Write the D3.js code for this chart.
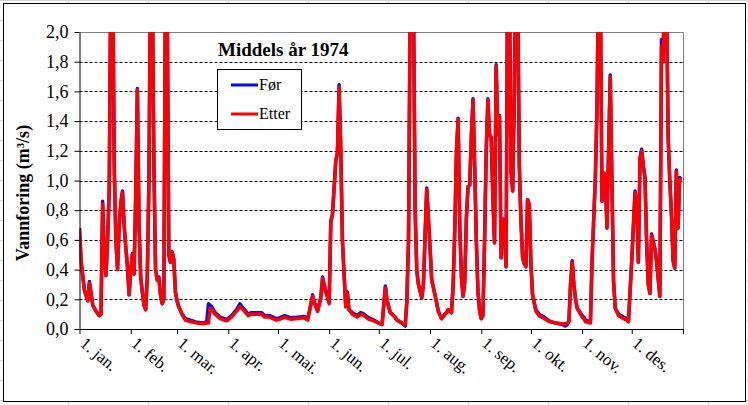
<!DOCTYPE html>
<html>
  <head>
  	<meta charset="utf-8">
  	<title>Middels år 1974</title>
  	<script src="https://d3js.org/d3.v7.min.js"></script>
  	<style>
  		body { margin: 0; background: #fff; }
  		svg text { font-family: "Liberation Serif", "Times New Roman", serif; fill: #000; }
  	</style>
  </head>
  <body>
  	<div id="chartDiv"></div>
  	<script>
  		// day of year (0 = 1. jan. 1974) for every reading
  		var dag = [0,1,3,5,6,8,10,12,13,14,15,16,17,18,19,20,21,22,23,24,25,26,27,28,29,30,
  			31,32,33,34,35,36,37,38,39,40,41,42,43,44,45,46,47,48,49,50,51,52,53,54,55,56,57,58,
  			59,60,62,64,67,71,75,77,78,79,80,82,85,89,92,95,97,99,102,104,107,110,112,115,119,
  			121,124,128,132,136,138,141,142,144,146,147,149,151,152,153,155,156,157,158,159,161,162,163,165,168,170,172,175,178,
  			181,183,185,186,188,190,192,195,197,198,199,200,201,202,203,204,205,207,208,210,
  			211,212,213,215,217,219,221,222,223,225,226,227,228,229,230,231,232,233,234,235,236,237,238,239,240,241,242,
  			243,244,245,246,247,248,249,250,251,252,253,254,255,256,257,258,259,260,261,262,263,264,265,266,267,268,269,270,271,272,
  			273,274,276,278,281,284,288,292,294,295,296,297,298,299,300,301,303,
  			304,305,306,309,310,312,313,314,315,316,317,318,319,320,321,322,323,324,326,329,331,332,
  			334,336,337,338,339,340,341,342,343,344,345,346,348,349,351,352,353,354,355,356,357,358,359,360,361,362,363,364];

  		// "Før" series (m3/s)
  		var foer = [0.68,0.45,0.26,0.19,0.32,0.16,0.12,0.09,0.10,0.86,0.50,0.36,0.60,0.95,2.50,2.60,1.10,0.60,0.40,0.70,0.85,0.93,0.70,0.55,0.42,0.23,
  			0.40,0.51,0.37,0.90,1.62,0.70,0.35,0.25,0.16,0.13,0.35,1.00,2.50,2.40,1.10,0.40,0.33,0.35,0.23,0.17,0.20,2.40,2.30,0.50,0.45,0.52,0.47,0.25,
  			0.19,0.15,0.10,0.07,0.06,0.045,0.04,0.05,0.17,0.16,0.15,0.11,0.08,0.065,0.09,0.13,0.17,0.14,0.10,0.11,0.11,0.11,0.09,0.09,0.07,
  			0.075,0.09,0.075,0.08,0.085,0.065,0.23,0.18,0.12,0.22,0.35,0.25,0.18,0.73,0.77,1.13,1.19,1.645,1.22,0.60,0.15,0.25,0.13,0.11,0.09,0.11,0.10,0.075,0.06,
  			0.04,0.03,0.29,0.19,0.11,0.09,0.06,0.04,0.02,0.19,0.60,2.20,2.80,2.20,0.80,0.39,0.30,0.21,0.30,0.95,
  			0.75,0.55,0.33,0.23,0.12,0.07,0.10,0.11,0.13,0.11,0.30,0.68,1.20,1.42,0.68,0.35,0.22,0.32,0.75,0.96,0.97,1.30,1.55,1.10,0.60,0.25,0.12,
  			0.07,0.09,0.60,1.20,1.55,1.31,1.29,0.90,0.58,1.78,1.31,1.44,0.48,0.74,0.68,0.42,2.60,2.30,1.06,0.93,1.60,2.70,2.30,1.10,0.73,0.48,0.44,0.42,0.87,0.84,
  			0.45,0.23,0.13,0.10,0.08,0.055,0.04,0.03,0.02,0.03,0.05,0.30,0.46,0.30,0.20,0.14,0.11,
  			0.09,0.08,0.06,0.045,0.46,1.02,1.50,2.50,2.30,0.86,1.05,1.04,0.68,1.20,1.71,1.00,0.32,0.14,0.10,0.08,0.07,0.05,
  			0.46,0.93,0.84,0.45,1.15,1.21,1.10,1.02,0.59,0.30,0.24,0.64,0.54,0.46,0.22,1.95,1.80,2.50,2.30,1.30,1.00,0.78,0.46,0.41,1.07,0.68,1.02,1.01];

  		// "Etter" series (m3/s)
  		var etter = [0.67,0.45,0.26,0.19,0.31,0.16,0.12,0.09,0.10,0.84,0.50,0.36,0.60,0.95,2.50,2.60,1.10,0.60,0.40,0.70,0.85,0.92,0.70,0.55,0.42,0.23,
  			0.40,0.50,0.37,0.90,1.61,0.70,0.35,0.25,0.16,0.13,0.35,1.00,2.50,2.40,1.10,0.40,0.33,0.34,0.23,0.17,0.20,2.40,2.30,0.50,0.45,0.52,0.47,0.25,
  			0.19,0.15,0.10,0.06,0.05,0.04,0.035,0.04,0.04,0.14,0.13,0.10,0.07,0.055,0.08,0.12,0.15,0.13,0.09,0.10,0.10,0.10,0.08,0.08,0.06,
  			0.065,0.08,0.065,0.07,0.075,0.06,0.22,0.18,0.12,0.21,0.34,0.25,0.17,0.72,0.77,1.13,1.19,1.63,1.22,0.60,0.15,0.24,0.13,0.10,0.08,0.10,0.09,0.065,0.055,
  			0.04,0.03,0.28,0.19,0.11,0.09,0.06,0.04,0.03,0.19,0.60,2.20,2.80,2.20,0.80,0.39,0.30,0.21,0.30,0.94,
  			0.75,0.55,0.33,0.23,0.12,0.07,0.10,0.11,0.13,0.11,0.30,0.68,1.20,1.41,0.68,0.35,0.22,0.32,0.75,0.96,0.97,1.30,1.54,1.10,0.60,0.25,0.12,
  			0.07,0.09,0.60,1.20,1.54,1.31,1.29,0.90,0.58,1.77,1.31,1.43,0.48,0.74,0.68,0.42,2.60,2.30,1.06,0.93,1.60,2.70,2.30,1.10,0.73,0.48,0.44,0.42,0.87,0.84,
  			0.45,0.23,0.12,0.09,0.07,0.05,0.04,0.035,0.035,0.04,0.05,0.30,0.45,0.30,0.20,0.14,0.10,
  			0.08,0.07,0.05,0.04,0.46,1.02,1.50,2.50,2.30,0.86,1.05,1.04,0.68,1.20,1.70,1.00,0.32,0.14,0.09,0.07,0.06,0.05,
  			0.46,0.92,0.84,0.45,1.15,1.20,1.10,1.02,0.59,0.30,0.24,0.63,0.54,0.46,0.22,1.90,1.80,2.50,2.30,1.30,1.00,0.78,0.46,0.41,1.06,0.68,1.01,1.00];

  		var yTicks = [0, 0.2, 0.4, 0.6, 0.8, 1.0, 1.2, 1.4, 1.6, 1.8, 2.0];
  		var maaneder = ["1. jan.", "1. feb.", "1. mar.", "1. apr.", "1. mai.", "1. jun.",
  			"1. jul.", "1. aug.", "1. sep.", "1. okt.", "1. nov.", "1. des."];
  		var serier = ["Før", "Etter"];
  		var farger = ["#0a0ae6", "#ff0000"];

  		var W = 748, H = 405;
  		var plot = {left: 79.5, right: 683, top: 32, bottom: 329};
  		var serif = '"Liberation Serif", "Times New Roman", serif';

  		var svg = d3.select('#chartDiv')
  			.append('svg')
  			.attr('width', W)
  			.attr('height', H)
  			.style('display', 'block');

  		// spreadsheet cell grid behind the chart object
  		var cells = svg.append('g').attr('stroke', '#d4d4d4').attr('stroke-width', 1);
  		d3.range(68.5, W, 80).forEach(function(x){
  			cells.append('line').attr('x1', x).attr('x2', x).attr('y1', 0).attr('y2', H);
  		});
  		d3.range(0.5, H, 20).forEach(function(y){
  			cells.append('line').attr('x1', 0).attr('x2', W).attr('y1', y).attr('y2', y);
  		});

  		// chart area
  		svg.append('rect')
  			.attr('x', 3.5).attr('y', 3.5)
  			.attr('width', 742).attr('height', 398)
  			.attr('fill', '#fff')
  			.attr('stroke', '#000');

  		var start = new Date(Date.UTC(1974, 0, 1));
  		var slutt = new Date(Date.UTC(1975, 0, 1));

  		var x = d3.scaleUtc()
  			.domain([start, slutt])
  			.range([plot.left, plot.right]);

  		var y = d3.scaleLinear()
  			.domain([0, 2])
  			.range([plot.bottom, plot.top]);

  		// dashed gridlines
  		svg.append('g')
  			.selectAll('line')
  			.data(yTicks.slice(1, -1))
  			.enter().append('line')
  			.attr('x1', plot.left).attr('x2', plot.right)
  			.attr('y1', function(d){ return Math.round(y(d)) + 0.5; })
  			.attr('y2', function(d){ return Math.round(y(d)) + 0.5; })
  			.attr('stroke', '#000')
  			.attr('stroke-dasharray', '3,2');

  		// plot area border (top and right are gray)
  		svg.append('path')
  			.attr('d', 'M' + plot.left + ',' + (plot.top + 0.5) + 'H' + (plot.right + 0.5) + 'V' + plot.bottom)
  			.attr('fill', 'none')
  			.attr('stroke', '#808080');

  		// data lines, clipped to the plot area
  		svg.append('clipPath').attr('id', 'clip')
  			.append('rect')
  			.attr('x', plot.left).attr('y', plot.top)
  			.attr('width', plot.right - plot.left).attr('height', plot.bottom - plot.top);

  		var line = d3.line()
  			.x(function(d){ return x(d3.utcDay.offset(start, d[0])); })
  			.y(function(d){ return y(d[1]); });

  		var lines = svg.append('g').attr('clip-path', 'url(#clip)');
  		[foer, etter].forEach(function(vals, k){
  			lines.append('path')
  				.datum(dag.map(function(d, i){ return [d, vals[i]]; }))
  				.attr('d', line)
  				.attr('fill', 'none')
  				.attr('stroke', farger[k])
  				.attr('stroke-width', 3.5)
  				.attr('stroke-linejoin', 'round');
  		});

  		// y axis
  		var yAxis = d3.axisLeft(y)
  			.tickValues(yTicks)
  			.tickSize(5)
  			.tickSizeOuter(0)
  			.tickPadding(6)
  			.tickFormat(function(d){ return d.toFixed(1).replace('.', ','); });

  		svg.append('g')
  			.attr('transform', 'translate(' + plot.left + ',0)')
  			.call(yAxis)
  			.attr('font-family', serif)
  			.attr('font-size', 18)
  			.call(function(g){
  				g.selectAll('line, path').attr('stroke', '#000');
  			});

  		// x axis with rotated month labels
  		var xAxis = d3.axisBottom(x)
  			.ticks(d3.utcMonth.every(1))
  			.tickSize(5)
  			.tickSizeOuter(0)
  			.tickFormat(function(d){
  				return d.getUTCFullYear() == 1974 ? maaneder[d.getUTCMonth()] : '';
  			});

  		svg.append('g')
  			.attr('transform', 'translate(0,' + plot.bottom + ')')
  			.call(xAxis)
  			.attr('font-family', serif)
  			.attr('font-size', 17)
  			.call(function(g){
  				g.selectAll('line, path').attr('stroke', '#000');
  				g.selectAll('text')
  					.attr('text-anchor', 'start')
  					.attr('x', 0).attr('y', 0).attr('dy', null)
  					.attr('transform', 'translate(-1,16) rotate(40)');
  			});

  		// title
  		svg.append('text')
  			.attr('x', 218).attr('y', 56)
  			.attr('font-family', serif)
  			.attr('font-size', 19)
  			.attr('font-weight', 'bold')
  			.text('Middels år 1974');

  		// y axis label
  		svg.append('text')
  			.attr('transform', 'translate(29,193) rotate(-90)')
  			.attr('text-anchor', 'middle')
  			.attr('font-family', serif)
  			.attr('font-size', 18)
  			.attr('font-weight', 'bold')
  			.text('Vannforing (m³/s)');

  		// legend
  		var legend = svg.append('g');
  		legend.append('rect')
  			.attr('x', 217.5).attr('y', 69.5)
  			.attr('width', 84).attr('height', 60)
  			.attr('fill', '#fff').attr('stroke', '#000');
  		serier.forEach(function(s, k){
  			var ly = 85 + k * 29;
  			legend.append('line')
  				.attr('x1', 231).attr('x2', 258)
  				.attr('y1', ly).attr('y2', ly)
  				.attr('stroke', farger[k]).attr('stroke-width', 3);
  			legend.append('text')
  				.attr('x', 259).attr('y', ly + 5)
  				.attr('font-family', serif)
  				.attr('font-size', 16)
  				.text(s);
  		});
  	</script>
  </body>
</html>
